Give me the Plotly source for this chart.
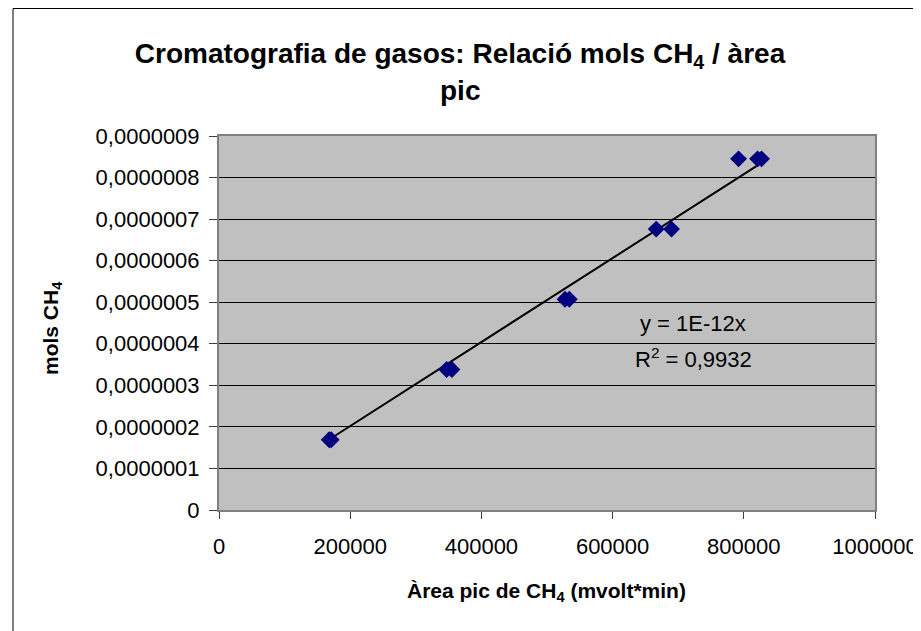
import plotly.graph_objects as go

# ---- data ----
area_pic = [168000, 171000, 347000, 355000, 527500, 534000,
            666500, 689800, 792000, 821000, 827000]
mols_ch4 = [1.69e-7, 1.69e-7, 3.38e-7, 3.38e-7, 5.07e-7, 5.07e-7,
            6.76e-7, 6.76e-7, 8.45e-7, 8.45e-7, 8.45e-7]

x_tick_vals = [0, 200000, 400000, 600000, 800000, 1000000]
x_tick_text = ["0", "200000", "400000", "600000", "800000", "1000000"]
y_tick_vals = [0, 1e-7, 2e-7, 3e-7, 4e-7, 5e-7, 6e-7, 7e-7, 8e-7, 9e-7]
y_tick_text = ["0", "0,0000001", "0,0000002", "0,0000003", "0,0000004",
               "0,0000005", "0,0000006", "0,0000007", "0,0000008", "0,0000009"]

title_line1 = "<b>Cromatografia de gasos: Relació mols CH<sub>4</sub> / àrea</b>"
title_line2 = "<b>pic</b>"
x_title = "<b>Àrea pic de CH<sub>4</sub> (mvolt*min)</b>"
y_title = "<b>mols CH<sub>4</sub></b>"
equation_text = "y = 1E-12x"
r2_text = "R<sup>2</sup> = 0,9932"

# linear trendline through the origin (least squares)
slope = sum(a * b for a, b in zip(area_pic, mols_ch4)) / sum(a * a for a in area_pic)
trend_x = [min(area_pic), max(area_pic)]
trend_y = [slope * v for v in trend_x]

FONT = "Liberation Sans, Arial, sans-serif"
OFF = 8  # page body margin

fig = go.Figure()
fig.add_trace(go.Scatter(
    x=trend_x, y=trend_y, mode="lines",
    line=dict(color="black", width=2), showlegend=False, hoverinfo="skip"))
fig.add_trace(go.Scatter(
    x=area_pic, y=mols_ch4, mode="markers",
    marker=dict(symbol="diamond", size=13, color="#000080",
                line=dict(width=0)),
    showlegend=False))

fig.update_layout(
    width=921, height=631,
    margin=dict(l=211, r=54, t=128, b=129),
    paper_bgcolor="white", plot_bgcolor="#C0C0C0",
    font=dict(family=FONT, size=22, color="black"),
    title=dict(text=title_line1,
               xref="container", x=(460 - OFF) / 921, xanchor="center",
               yref="container", y=1 - (53 - OFF) / 631, yanchor="middle",
               font=dict(family=FONT, size=28, color="black")),
    showlegend=False,
)
fig.add_annotation(text=title_line2, xref="paper", yref="paper",
                   x=(460 - 219) / 656, y=(510 - 91) / 374,
                   xanchor="center", yanchor="middle", showarrow=False,
                   font=dict(family=FONT, size=28, color="black"))

fig.update_xaxes(
    range=[0, 1000000], tickvals=x_tick_vals, ticktext=x_tick_text,
    showgrid=False, zeroline=False,
    ticks="outside", ticklen=7, tickcolor="#404040", tickwidth=1,
    showline=True, linecolor="#808080", linewidth=2, mirror=True,
    ticklabelstandoff=9,
)
fig.update_yaxes(
    range=[0, 9e-7], tickvals=y_tick_vals, ticktext=y_tick_text,
    showgrid=True, gridcolor="black", gridwidth=1, zeroline=False,
    ticks="outside", ticklen=8, tickcolor="#404040", tickwidth=1,
    showline=True, linecolor="#808080", linewidth=2, mirror=True,
    ticklabelstandoff=5,
)

# axis titles
fig.add_annotation(text=x_title, xref="paper", yref="paper",
                   x=(546 - 219) / 656, y=(510 - 592) / 374,
                   xanchor="center", yanchor="middle", showarrow=False,
                   font=dict(family=FONT, size=21, color="black"))
fig.add_annotation(text=y_title, xref="paper", yref="paper",
                   x=(52 - 219) / 656, y=(510 - 328) / 374, textangle=-90,
                   xanchor="center", yanchor="middle", showarrow=False,
                   font=dict(family=FONT, size=21, color="black"))

# trendline equation
fig.add_annotation(text=equation_text, x=722600, y=4.5e-7, xref="x", yref="y",
                   showarrow=False, xanchor="center", yanchor="middle",
                   font=dict(family=FONT, size=22, color="black"))
fig.add_annotation(text=r2_text, x=722600, y=3.66e-7, xref="x", yref="y",
                   showarrow=False, xanchor="center", yanchor="middle",
                   font=dict(family=FONT, size=22, color="black"))

# outer chart border
fig.add_shape(type="rect", xref="paper", yref="paper",
              x0=(13 - 219) / 656, x1=(940 - 219) / 656,
              y0=(510 - 650) / 374, y1=(510 - 8.5) / 374,
              line=dict(color="black", width=1), fillcolor="rgba(0,0,0,0)",
              layer="below")

fig.write_html("out.html")
